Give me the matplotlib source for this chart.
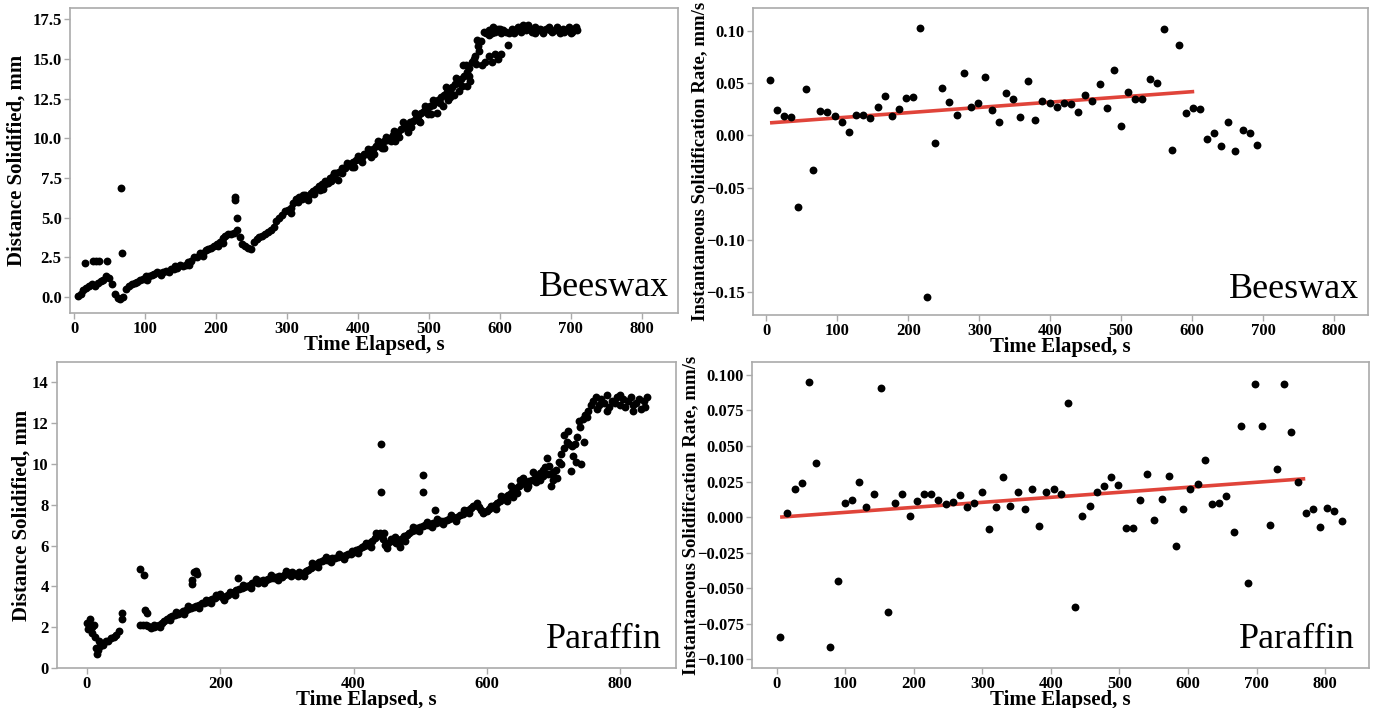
import numpy as np
import matplotlib
matplotlib.use("Agg")
import matplotlib.pyplot as plt

plt.rcParams['font.family'] = ['Liberation Serif', 'DejaVu Serif']

# ---------------- Beeswax distance (sampled every 4 s from 5 s) ----------------
bw_t_start, bw_t_step = 5, 4
bw_dist = [
    0.05, 0.2, 0.45, 0.6, 0.7, 0.8, 0.7, 0.9, 1.0, 1.1,
    1.3, 1.2, 0.8, 0.2, -0.05, -0.1, 0.0, 0.5, 0.7, 0.8,
    0.9, 0.95, 1.1, 1.15, 1.3, 1.3, 1.4, 1.45, 1.55, 1.5,
    1.55, 1.65, 1.6, 1.75, 1.8, 1.85, 2.0, 1.95, 2.05, 2.2,
    2.3, 2.5, 2.55, 2.75, 2.8, 2.95, 3.0, 3.1, 3.2, 3.35,
    3.5, 3.7, 3.85, 3.95, 4.0, 4.05, 4.2, 3.8, 3.35, 3.2,
    3.1, 3.0, 3.5, 3.65, 3.8, 3.85, 4.0, 4.1, 4.2, 4.4,
    4.8, 5.0, 5.2, 5.4, 5.5, 5.6, 5.9, 6.2, 6.3, 6.2,
    6.4, 6.3, 6.55, 6.7, 6.8, 7.0, 7.1, 7.3, 7.2, 7.5,
    7.6, 7.8, 7.9, 8.1, 8.1, 8.3, 8.4, 8.5, 8.6, 8.7,
    8.8, 9.0, 9.0, 9.2, 9.3, 9.5, 9.5, 9.7, 9.8, 9.9,
    10.0, 10.2, 10.3, 10.4, 10.6, 10.7, 10.8, 11.0, 11.1, 11.3,
    11.4, 11.6, 11.7, 11.8, 12.0, 12.1, 12.3, 12.4, 12.6, 12.7,
    12.9, 13.0, 13.2, 13.4, 13.5, 13.7, 13.9, 14.2, 14.4, 14.8,
    15.2, 15.8, 16.1, 16.7, 16.6, 16.8, 16.6, 16.7, 16.9, 16.6,
    16.8, 16.7, 16.6, 16.9, 16.8, 17.0, 16.9, 17.1, 16.8, 16.9,
    16.7, 17.0, 16.8, 16.9, 16.6, 16.9, 17.0, 16.7, 16.8, 16.9,
    16.6, 16.9, 16.8, 17.0, 16.7, 16.9, 16.8,
]
# scattered / outlying beeswax readings (off the main band)
bw_extra_t = [15, 27, 31, 35, 46, 66, 68, 226, 227, 229,
              330, 350, 372, 395, 418, 436, 452, 470, 488, 503,
              511, 520, 527, 535, 543, 548, 553, 558, 563, 568,
              575, 579, 584, 589, 593, 597, 601, 612,
              102, 122, 142, 162, 182, 202, 210,
              305, 315, 322, 338, 346, 354, 362, 366, 378, 384, 392, 400, 406, 414,
              422, 428, 434, 440, 446, 450, 458, 464, 474, 480, 486, 494, 498, 506,
              516, 524, 530, 538, 546, 552, 556, 566, 571,
              585, 590, 600, 620, 630, 640, 650, 660, 670, 680, 690, 700, 707]
bw_extra_d = [2.15, 2.25, 2.3, 2.25, 2.3, 6.9, 2.8, 6.1, 6.3, 5.0,
              6.1, 6.8, 7.4, 8.2, 8.8, 9.4, 9.8, 10.4, 11.0, 11.5,
              11.6, 12.0, 12.4, 12.7, 13.0, 14.6, 13.3, 13.6, 15.0, 16.2,
              14.6, 14.8, 15.2, 14.8, 15.3, 15.0, 15.3, 15.9,
              1.1, 1.4, 1.95, 2.0, 2.6, 3.2, 3.4,
              5.3, 6.0, 6.45, 6.5, 6.75, 7.1, 7.3, 7.8, 7.8, 8.45, 8.2, 8.9, 8.5, 9.3,
              9.0, 9.8, 9.4, 10.1, 9.8, 10.45, 10.1, 11.0, 10.7, 11.6, 11.1, 12.0, 11.5, 12.4,
              12.2, 13.2, 12.6, 13.8, 13.3, 14.6, 13.9, 14.7, 15.5,
              16.5, 17.0, 16.9, 16.6, 16.7, 17.1, 16.6, 16.8, 16.8, 17.0, 16.7, 16.6, 17.0]

# ---------------- Paraffin distance (sampled every 4 s from 0 s) ----------------
nan = float('nan')
pa_t_start, pa_t_step = 0, 4
pa_dist = [
    2.2, 2.4, 2.0, 1.5, 0.9, 1.1, 1.15, 1.3, 1.3, 1.45,
    1.5, 1.6, 1.8, 2.4, nan, nan, nan, nan, nan, nan,
    2.1, 2.1, 2.1, 2.05, 1.95, 2.0, 2.05, 2.1, 2.2, 2.3,
    2.4, 2.5, 2.55, 2.6, 2.65, 2.7, 2.8, 2.85, 2.9, 2.95,
    3.0, 3.05, 3.1, 3.2, 3.2, 3.25, 3.35, 3.4, 3.45, 3.55,
    3.65, 3.45, 3.55, 3.6, 3.7, 3.75, 3.8, 3.85, 3.9, 3.95,
    4.0, 4.05, 4.15, 4.2, 4.15, 4.25, 4.3, 4.3, 4.35, 4.4,
    4.4, 4.45, 4.5, 4.45, 4.55, 4.6, 4.65, 4.7, 4.6, 4.5,
    4.55, 4.65, 4.75, 4.8, 4.9, 5.0, 5.1, 5.2, 5.25, 5.3,
    5.3, 5.35, 5.4, 5.4, 5.45, 5.5, 5.5, 5.55, 5.6, 5.6,
    5.7, 5.8, 5.85, 5.95, 6.0, 6.05, 6.15, 6.25, 6.35, 6.45,
    6.6, 6.3, 6.05, 6.15, 6.3, 6.25, 6.15, 6.1, 6.3, 6.45,
    6.5, 6.6, 6.7, 6.75, 6.85, 6.9, 6.95, 7.0, 7.0, 7.05,
    7.1, 7.1, 7.15, 7.2, 7.2, 7.25, 7.3, 7.35, 7.35, 7.4,
    7.5, 7.55, 7.65, 7.75, 7.85, 7.95, 8.0, 7.9, 7.75, 7.65,
    7.7, 7.8, 7.9, 8.0, 8.1, 8.2, 8.3, 8.4, 8.5, 8.6,
    8.7, 8.8, 8.9, 9.0, 9.05, 9.1, 9.15, 9.2, 9.3, 9.4,
    9.55, 9.7, 9.85, 9.5, 8.9, 9.2, 9.7, 10.1, 10.5, 10.8,
    11.1, 11.0, 10.9, 11.0, 11.3, 11.8, 12.2, 12.4, 12.6, 12.9,
    13.1, 13.3, 12.9, 13.2, 13.0, 13.4, 12.8, 13.1, 13.0, 13.3,
    12.9, 13.2, 12.8, 13.1, 13.3, 12.9, 13.0, 13.2, 12.7, 13.1,
    13.3,
]
pa_extra_t = [2, 5, 7, 10, 13, 15, 18, 53, 80, 85, 87, 90, 157, 158, 160, 163, 165, 227,
              442, 442, 505, 505, 522,
              640, 650, 660, 670, 680, 690, 694, 700, 712, 716, 722, 726, 730, 734,
              738, 742, 746, 750, 766, 780, 800, 820, 838,
              100, 110, 124, 134, 146, 152, 168, 178, 186, 194, 206, 214, 222, 234,
              246, 254, 266, 276, 286, 298, 306, 318, 326, 338, 346, 358, 366, 378,
              386, 398, 406, 418, 426, 434, 446, 450, 462, 470, 478, 490, 498, 510,
              518, 526, 534, 546, 554, 566, 574, 586, 594, 606, 614, 622, 630, 636,
              646, 654, 662, 674, 684, 698, 706]
pa_extra_d = [1.9, 2.1, 1.7, 2.1, 1.0, 0.7, 1.3, 2.7, 4.85, 4.57, 2.85, 2.7, 4.1, 4.3, 4.7, 4.75, 4.6, 4.4,
              11.0, 8.63, 9.44, 8.63, 7.73,
              8.4, 9.2, 8.8, 9.6, 9.2, 10.3, 9.9, 9.6, 10.0, 11.4, 11.6, 9.64, 10.4, 10.1,
              12.1, 10.0, 11.1, 12.3, 12.7, 12.6, 13.4, 12.6, 12.8,
              2.1, 2.0, 2.35, 2.75, 2.65, 3.05, 2.95, 3.35, 3.2, 3.6, 3.35, 3.75, 3.6, 4.05,
              3.9, 4.35, 4.15, 4.55, 4.3, 4.75, 4.5, 4.7, 4.5, 5.15, 4.95, 5.45, 5.2, 5.6,
              5.35, 5.75, 5.65, 6.15, 5.95, 6.6, 6.6, 5.9, 6.4, 5.95, 6.25, 6.9, 6.7, 7.15,
              6.9, 7.3, 7.05, 7.5, 7.2, 7.75, 7.6, 8.1, 7.6, 7.95, 7.8, 8.45, 8.2, 8.9,
              8.6, 9.3, 8.9, 9.1, 9.4, 9.5, 9.3]

# ---------------- Beeswax instantaneous rate ----------------
bw_rate_t = [5, 15, 25, 35, 45, 56, 66, 76, 86, 96, 106, 116, 126, 136, 146, 157, 167, 177,
             187, 197, 207, 217, 227, 237, 247, 257, 268, 278, 288, 298, 308, 318, 328, 338,
             348, 358, 369, 379, 389, 399, 409, 419, 429, 439, 449, 459, 470, 480, 490, 500,
             510, 520, 530, 540, 550, 560, 571, 581, 591, 601, 611, 621, 631, 641, 651, 661,
             672, 682, 692]
bw_rate = [0.053, 0.024, 0.019, 0.018, -0.069, 0.044, -0.033, 0.023, 0.022, 0.019,
           0.013, 0.003, 0.020, 0.020, 0.017, 0.027, 0.038, 0.019, 0.025, 0.036,
           0.037, 0.103, -0.155, -0.007, 0.045, 0.032, 0.020, 0.060, 0.027, 0.031,
           0.056, 0.024, 0.013, 0.041, 0.035, 0.018, 0.052, 0.015, 0.033, 0.031,
           0.027, 0.031, 0.030, 0.022, 0.039, 0.033, 0.049, 0.026, 0.063, 0.009,
           0.042, 0.035, 0.035, 0.054, 0.050, 0.102, -0.014, 0.087, 0.021, 0.026,
           0.025, -0.003, 0.002, -0.010, 0.013, -0.015, 0.005, 0.002, -0.009]
bw_fit_t = [5, 603]
bw_fit = [0.012, 0.042]

# ---------------- Paraffin instantaneous rate ----------------
pa_rate_t = [5, 15.5, 26, 36.5, 47, 57.5, 78.5, 89, 99.5, 110, 120.5, 131, 141.5, 152,
             162.5, 173, 183.5, 194, 204.5, 215, 225.5, 236, 246.5, 257, 267.5, 278, 288.5,
             299, 309.5, 320, 330.5, 341, 351.5, 362, 372.5, 383, 393.5, 404, 414.5, 425,
             435.5, 446, 456.5, 467, 477.5, 488, 498.5, 509, 519.5, 530, 540.5, 551, 561.5,
             572, 582.5, 593, 603.5, 614, 624.5, 635, 645.5, 656, 666.5, 677, 687.5, 698,
             708.5, 719, 729.5, 740, 750.5, 761, 771.5, 782, 792.5, 803, 813.5, 824]
pa_rate = [-0.084, 0.003, 0.020, 0.024, 0.095, 0.038, -0.091, -0.045, 0.010, 0.012,
           0.025, 0.007, 0.016, 0.091, -0.067, 0.010, 0.0165, 0.001, 0.011, 0.0165,
           0.0165, 0.012, 0.009, 0.0105, 0.0155, 0.007, 0.010, 0.018, -0.0085, 0.007,
           0.0285, 0.0075, 0.018, 0.0055, 0.020, -0.0065, 0.018, 0.020, 0.0165, 0.080,
           -0.063, 0.001, 0.0075, 0.018, 0.022, 0.028, 0.0225, -0.0075, -0.0075, 0.012,
           0.0305, -0.002, 0.0125, 0.029, -0.0205, 0.0055, 0.020, 0.023, 0.040, 0.009,
           0.010, 0.015, -0.0105, 0.064, -0.046, 0.0935, 0.064, -0.0055, 0.034, 0.0935,
           0.0595, 0.025, 0.003, 0.006, -0.007, 0.0065, 0.004, -0.003]
pa_fit_t = [5, 771]
pa_fit = [0.000, 0.027]

# ---------------- drawing ----------------
W, H = 1376, 708
fig = plt.figure(figsize=(W / 100, H / 100), dpi=100)

def box(l, r, t, b):
    return [l / W, 1 - b / H, (r - l) / W, (b - t) / H]

ax_tl = fig.add_axes(box(70, 678, 8, 313))
ax_tr = fig.add_axes(box(753, 1368, 8, 315))
ax_bl = fig.add_axes(box(57, 676, 362, 668))
ax_br = fig.add_axes(box(752, 1369, 362, 668))

spine_col = '#aaaaaa'
lab_font = dict(fontsize=15, fontweight='bold')
rate_lab_font = dict(fontsize=13.5, fontweight='bold')
dot = dict(s=32, color='black', linewidths=0, zorder=3)

def style(ax, ylab_x):
    for sp in ax.spines.values():
        sp.set_color(spine_col)
        sp.set_linewidth(1.2)
    ax.tick_params(axis='both', colors=spine_col, labelcolor='black', length=4, width=1, pad=2)
    for lbl in ax.get_xticklabels() + ax.get_yticklabels():
        lbl.set_fontsize(12)
        lbl.set_fontweight('bold')
    ax.set_xlabel('Time Elapsed, s', labelpad=-2, **lab_font)
    ax.yaxis.set_label_coords(ylab_x, 0.5)

bw_t = bw_t_start + bw_t_step * np.arange(len(bw_dist))
pa_t = pa_t_start + pa_t_step * np.arange(len(pa_dist))

# top-left
ax = ax_tl
ax.scatter(bw_t, bw_dist, **dot)
ax.scatter(bw_extra_t, bw_extra_d, **dot)
ax.set_xlim(-6, 851)
ax.set_ylim(-1.0, 18.2)
ax.set_xticks(range(0, 801, 100))
ax.set_yticks([0, 2.5, 5, 7.5, 10, 12.5, 15, 17.5])
ax.set_yticklabels(['0.0', '2.5', '5.0', '7.5', '10.0', '12.5', '15.0', '17.5'])
ax.set_ylabel('Distance Solidified, mm', **lab_font)
ax.text(0.985, 0.03, 'Beeswax', transform=ax.transAxes, ha='right', va='bottom', fontsize=26)
style(ax, -0.071)

# top-right
ax = ax_tr
ax.scatter(bw_rate_t, bw_rate, **dot)
ax.plot(bw_fit_t, bw_fit, color='#e0443a', lw=2.6, zorder=2, solid_capstyle='butt')
ax.set_xlim(-19, 848)
ax.set_ylim(-0.172, 0.122)
ax.set_xticks(range(0, 801, 100))
ax.set_yticks([-0.15, -0.10, -0.05, 0.0, 0.05, 0.10])
ax.set_yticklabels(['\u22120.15', '\u22120.10', '\u22120.05', '0.00', '0.05', '0.10'])
ax.set_ylabel('Instantaneous Solidification Rate, mm/s', **rate_lab_font)
ax.text(0.986, 0.03, 'Beeswax', transform=ax.transAxes, ha='right', va='bottom', fontsize=26)
style(ax, -0.073)

# bottom-left
ax = ax_bl
ax.scatter(pa_t, pa_dist, **dot)
ax.scatter(pa_extra_t, pa_extra_d, **dot)
ax.set_xlim(-45, 884)
ax.set_ylim(0, 15)
ax.set_xticks([0, 200, 400, 600, 800])
ax.set_yticks([0, 2, 4, 6, 8, 10, 12, 14])
ax.set_ylabel('Distance Solidified, mm', **lab_font)
ax.text(0.977, 0.04, 'Paraffin', transform=ax.transAxes, ha='right', va='bottom', fontsize=26)
style(ax, -0.041)

# bottom-right
ax = ax_br
ax.scatter(pa_rate_t, pa_rate, **dot)
ax.plot(pa_fit_t, pa_fit, color='#e0443a', lw=2.6, zorder=2, solid_capstyle='butt')
ax.set_xlim(-36, 864)
ax.set_ylim(-0.106, 0.109)
ax.set_xticks(range(0, 801, 100))
ax.set_yticks([-0.1, -0.075, -0.05, -0.025, 0, 0.025, 0.05, 0.075, 0.1])
ax.set_yticklabels(['\u22120.100', '\u22120.075', '\u22120.050', '\u22120.025', '0.000',
                    '0.025', '0.050', '0.075', '0.100'])
ax.set_ylabel('Instantaneous Solidification Rate, mm/s', **rate_lab_font)
ax.text(0.977, 0.04, 'Paraffin', transform=ax.transAxes, ha='right', va='bottom', fontsize=26)
style(ax, -0.085)

fig.savefig('out.png', dpi=100)
